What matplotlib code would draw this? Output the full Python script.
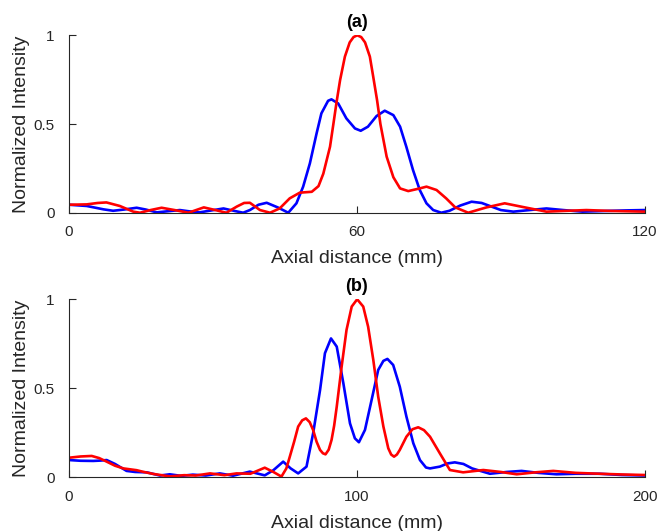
import matplotlib
matplotlib.use("Agg")
import matplotlib.pyplot as plt

plt.rcParams['font.family'] = ['Liberation Sans', 'DejaVu Sans']
txt = '#262626'

# panel (a): axial distance (mm) / normalized intensity
a_blue_x = [0, 3.7, 7.2, 9.2, 11.5, 14.1, 16, 18.3, 20.5, 23.1, 25, 27.2, 29.5, 32.2,
            34.5, 36.3, 37.7, 39.5, 41.2, 43.5, 45.7, 47.4, 48.8, 50.2, 51.6, 52.6, 54.0,
            54.7, 56.1, 57.8, 59.6, 60.8, 62.3, 64.1, 65.8, 67.6, 69.0, 70.3, 71.7, 73.1,
            74.5, 75.9, 77.6, 79.3, 81.5, 83.9, 86, 88, 90, 92.6, 96, 99.5, 103, 107,
            112, 116, 120]
a_blue_y = [0.045, 0.038, 0.019, 0.011, 0.018, 0.028, 0.018, 0.002, 0.008, 0.015, 0.008,
            0.002, 0.012, 0.024, 0.01, 0.0, 0.015, 0.045, 0.056, 0.03, 0.0, 0.053, 0.147,
            0.278, 0.447, 0.56, 0.631, 0.639, 0.616, 0.532, 0.475, 0.462, 0.485, 0.545,
            0.575, 0.55, 0.485, 0.372, 0.24, 0.128, 0.053, 0.015, 0.0, 0.011, 0.04, 0.062,
            0.055, 0.035, 0.015, 0.006, 0.015, 0.024, 0.015, 0.006, 0.01, 0.013, 0.015]
a_red_x = [0, 3.7, 6, 7.8, 10.6, 13.4, 14.8, 17, 19.3, 22, 24.9, 26.5, 28.1, 30.5, 32.8,
           35, 36.5, 37.7, 39.8, 41.9, 43.9, 46.0, 48.1, 50.6, 52.0, 53.0, 54.4, 55.1,
           55.8, 56.5, 57.5, 58.5, 59.3, 60.07, 60.9, 61.7, 62.7, 63.4, 64.2, 64.9, 66.2,
           67.6, 69.0, 70.7, 73.1, 74.5, 76.6, 78.6, 80.5, 83.2, 87, 90.8, 95, 99.5, 103,
           107.8, 113, 120]
a_red_y = [0.045, 0.047, 0.055, 0.058, 0.038, 0.006, 0.0, 0.015, 0.028, 0.015, 0.0, 0.015,
           0.03, 0.015, 0.0, 0.035, 0.055, 0.056, 0.015, 0.0, 0.024, 0.081, 0.113, 0.118,
           0.15, 0.22, 0.372, 0.5, 0.63, 0.748, 0.88, 0.96, 0.99, 1.0, 0.99, 0.96, 0.88,
           0.767, 0.635, 0.5, 0.316, 0.20, 0.137, 0.122, 0.137, 0.147, 0.128, 0.081, 0.03,
           0.0, 0.03, 0.053, 0.03, 0.006, 0.01, 0.015, 0.01, 0.006]

# panel (b)
b_blue_x = [0, 4, 8.4, 11, 13.1, 16, 20, 23, 27, 31.6, 35, 39, 43, 47.5, 52.4, 57, 62.8,
            68, 71, 74.4, 77, 79.6, 82.5, 84.8, 87.2, 88.9, 91, 93, 95.3, 97.6, 99.3,
            100.7, 102.8, 105.1, 107.4, 109.2, 110.6, 112.6, 114.9, 117.2, 119.6, 121.9,
            124, 125.4, 128.8, 131.5, 134, 137, 140, 146.2, 152, 157.2, 163, 169.3, 176,
            184.3, 192, 200]
b_blue_y = [0.097, 0.093, 0.092, 0.094, 0.097, 0.075, 0.036, 0.03, 0.028, 0.01, 0.017,
            0.008, 0.015, 0.01, 0.022, 0.009, 0.032, 0.011, 0.04, 0.088, 0.05, 0.022, 0.06,
            0.247, 0.49, 0.697, 0.78, 0.734, 0.528, 0.303, 0.219, 0.197, 0.266, 0.434,
            0.603, 0.654, 0.665, 0.631, 0.509, 0.341, 0.191, 0.097, 0.055, 0.05, 0.06,
            0.078, 0.084, 0.075, 0.05, 0.02, 0.03, 0.036, 0.025, 0.017, 0.02, 0.02, 0.013,
            0.01]
b_red_x = [0, 4, 7.9, 10.5, 13.1, 16, 18.9, 23.5, 26, 29.3, 35.1, 40, 44, 49, 54, 58.2,
           63, 68, 71, 73.8, 75.5, 76.7, 78.2, 79.6, 81, 82.3, 83.6, 84.8, 86, 87.2, 88.2,
           89.1, 90.2, 91.2, 92.1, 93, 94.7, 96.4, 98.2, 100.1, 102.2, 103.9, 105.7, 107.4,
           109.2, 110.9, 111.9, 112.9, 113.9, 114.9, 117.2, 119.3, 121.3, 123.3, 125.4,
           128.8, 132.3, 136.9, 143.9, 150, 155.5, 162, 168.2, 176, 184.3, 192, 200]
b_red_y = [0.11, 0.117, 0.12, 0.108, 0.088, 0.065, 0.05, 0.04, 0.03, 0.019, 0.005, 0.012,
           0.01, 0.022, 0.012, 0.022, 0.02, 0.054, 0.03, 0.004, 0.05, 0.116, 0.2, 0.285,
           0.32, 0.331, 0.31, 0.266, 0.2, 0.154, 0.135, 0.129, 0.155, 0.21, 0.29, 0.397,
           0.622, 0.828, 0.959, 1.0, 0.959, 0.846, 0.659, 0.453, 0.285, 0.163, 0.128, 0.116,
           0.128, 0.154, 0.228, 0.27, 0.281, 0.265, 0.228, 0.135, 0.041, 0.028, 0.041,
           0.03, 0.017, 0.028, 0.036, 0.025, 0.02, 0.016, 0.013]

fig = plt.figure(figsize=(6.6, 5.31), dpi=100)
ax1 = fig.add_axes([0.1045, 0.5994, 0.8725, 0.3341])
ax2 = fig.add_axes([0.1045, 0.1011, 0.8725, 0.3353])

panels = [(ax1, a_blue_x, a_blue_y, a_red_x, a_red_y, 120, [0, 60, 120], '(a)'),
          (ax2, b_blue_x, b_blue_y, b_red_x, b_red_y, 200, [0, 100, 200], '(b)')]

for ax, bx, by, rx, ry, xmax, xt, title in panels:
    ax.plot(bx, by, color='#0000ff', lw=1.9)
    ax.plot(rx, ry, color='#ff0000', lw=1.9)
    ax.set_xlim(0, xmax)
    ax.set_ylim(0, 1)
    ax.set_xticks(xt)
    ax.set_yticks([0, 0.5, 1])
    ax.set_yticklabels(['0', '0.5', '1'])
    ax.spines['top'].set_visible(False)
    ax.spines['right'].set_visible(False)
    ax.spines['left'].set_color(txt)
    ax.spines['bottom'].set_color(txt)
    ax.tick_params(direction='in', length=5, labelsize=11, width=0.8,
                   colors=txt)
    ax.tick_params(axis='x', pad=9)
    ax.tick_params(axis='y', pad=10.5)
    ax.set_xlabel('Axial distance (mm)', fontsize=14, labelpad=8, color=txt)
    ax.set_ylabel('Normalized Intensity', fontsize=14, labelpad=2, color=txt)
    ax.set_title(title, fontsize=13, fontweight='bold', pad=6, color='black')

fig.savefig('out.png', dpi=100)
